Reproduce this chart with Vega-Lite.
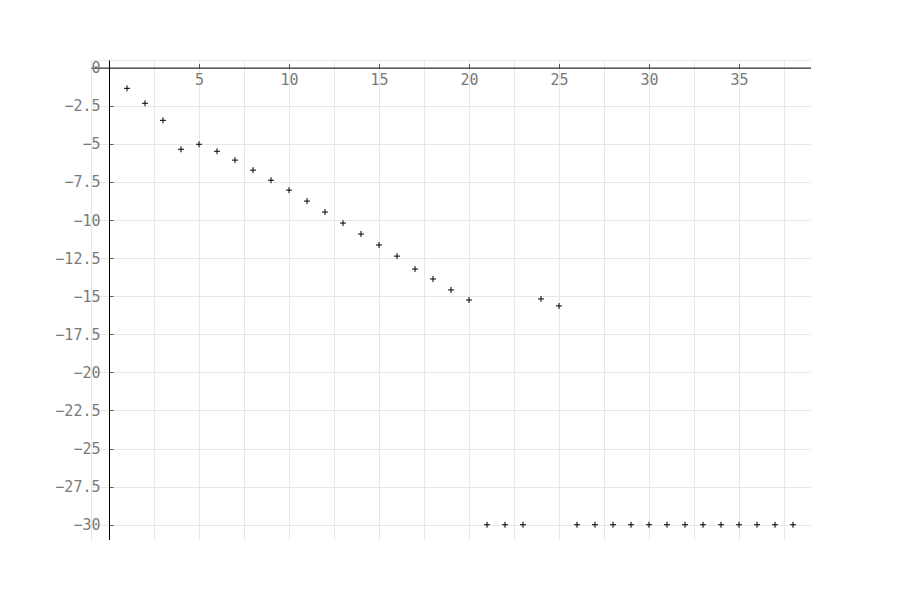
{
  "$schema": "https://vega.github.io/schema/vega-lite/v6.json",
  "width": 720,
  "height": 480,
  "autosize": {"type": "none"},
  "padding": {"left": 91, "top": 60, "right": 0, "bottom": 0},
  "background": "white",
  "config": {
    "view": {"stroke": "#e6e6e6", "strokeWidth": 1},
    "axis": {
      "labelFont": "DejaVu Sans Mono",
      "labelFontSize": 15,
      "labelColor": "#7a7a7a",
      "gridColor": "#e8e8e8",
      "gridWidth": 1,
      "domainColor": "black",
      "domainWidth": 1,
      "tickColor": "#555555",
      "title": null
    }
  },
  "data": {
    "values": [
      {"i": 1, "v": -1.36},
      {"i": 2, "v": -2.34},
      {"i": 3, "v": -3.46},
      {"i": 4, "v": -5.36},
      {"i": 5, "v": -5.03},
      {"i": 6, "v": -5.49},
      {"i": 7, "v": -6.07},
      {"i": 8, "v": -6.73},
      {"i": 9, "v": -7.39},
      {"i": 10, "v": -8.04},
      {"i": 11, "v": -8.76},
      {"i": 12, "v": -9.48},
      {"i": 13, "v": -10.2},
      {"i": 14, "v": -10.92},
      {"i": 15, "v": -11.64},
      {"i": 16, "v": -12.37},
      {"i": 17, "v": -13.22},
      {"i": 18, "v": -13.87},
      {"i": 19, "v": -14.59},
      {"i": 20, "v": -15.25},
      {"i": 21, "v": -30},
      {"i": 22, "v": -30},
      {"i": 23, "v": -30},
      {"i": 24, "v": -15.18},
      {"i": 25, "v": -15.64},
      {"i": 26, "v": -30},
      {"i": 27, "v": -30},
      {"i": 28, "v": -30},
      {"i": 29, "v": -30},
      {"i": 30, "v": -30},
      {"i": 31, "v": -30},
      {"i": 32, "v": -30},
      {"i": 33, "v": -30},
      {"i": 34, "v": -30},
      {"i": 35, "v": -30},
      {"i": 36, "v": -30},
      {"i": 37, "v": -30},
      {"i": 38, "v": -30}
    ]
  },
  "mark": {
    "type": "point",
    "shape": "M-1,0H1M0,-1V1",
    "filled": false,
    "stroke": "black",
    "strokeWidth": 1,
    "size": 36,
    "opacity": 1
  },
  "encoding": {
    "x": {
      "field": "i",
      "type": "quantitative",
      "scale": {"domain": [-1, 39], "nice": false, "zero": false},
      "axis": {
        "orient": "bottom",
        "offset": -472.38,
        "format": ".1~f",
        "values": [0, 2.5, 5, 7.5, 10, 12.5, 15, 17.5, 20, 22.5, 25, 27.5, 30, 32.5, 35, 37.5],
        "labelExpr": "datum.value % 5 === 0 && datum.value !== 0 ? datum.label : ''",
        "tickSize": -4,
        "tickOpacity": {"condition": {"test": "datum.value % 5 === 0 && datum.value !== 0", "value": 1}, "value": 0},
        "labelPadding": 9,
        "labelFlush": false,
        "labelOverlap": false
      }
    },
    "y": {
      "field": "v",
      "type": "quantitative",
      "scale": {"domain": [-31, 0.5], "nice": false, "zero": false},
      "axis": {
        "orient": "left",
        "offset": -18,
        "format": ".1~f",
        "values": [0, -2.5, -5, -7.5, -10, -12.5, -15, -17.5, -20, -22.5, -25, -27.5, -30],
        "tickSize": -4,
        "labelPadding": 13,
        "labelFlush": false,
        "labelOverlap": false
      }
    }
  }
}
